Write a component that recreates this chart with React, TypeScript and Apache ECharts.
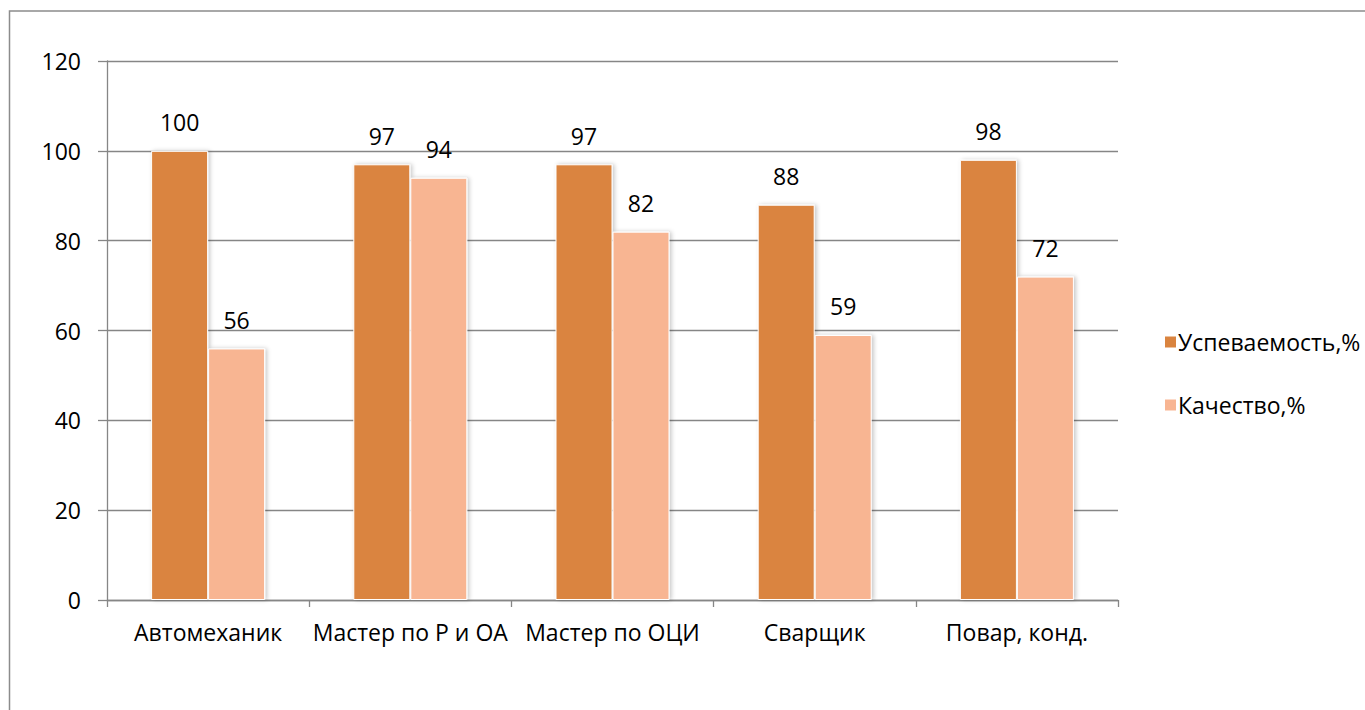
import React, { useEffect, useRef } from "react";
import * as echarts from "echarts";

const categories = ["Автомеханик", "Мастер по Р и ОА", "Мастер по ОЦИ", "Сварщик", "Повар, конд."];
const seriesNames = ["Успеваемость,%", "Качество,%"];
const progress = [100, 97, 97, 88, 98];
const quality = [56, 94, 82, 59, 72];
const yMin = 0;
const yMax = 120;
const yStep = 20;

const FONT = "'Open Sans', 'Noto Sans', sans-serif";
const FS = 23;
const AXIS_COLOR = "#868686";

export default function App() {
  const ref = useRef<HTMLDivElement>(null);
  useEffect(() => {
    if (!ref.current) return;
    const chart = echarts.init(ref.current, undefined, { renderer: "svg" });
    const barStyle = (color: string) => ({
      color,
      borderColor: "#ffffff",
      borderWidth: 1,
      shadowColor: "rgba(0,0,0,0.22)",
      shadowBlur: 4,
      shadowOffsetX: 2,
      shadowOffsetY: 0,
    });
    const label = {
      show: true,
      position: "top" as const,
      distance: 17,
      color: "#000",
      fontFamily: FONT,
      fontSize: FS,
    };
    chart.setOption({
      animation: false,
      backgroundColor: "#ffffff",
      textStyle: { fontFamily: FONT },
      graphic: [
        {
          type: "rect",
          shape: { x: 9.5, y: 11, width: 1400, height: 800 },
          style: { fill: "none", stroke: "#8c8c8c", lineWidth: 1.5 },
          silent: true,
        },
      ],
      grid: { left: 107, top: 61, right: 247, bottom: 110, containLabel: false },
      legend: {
        orient: "vertical",
        left: 1158,
        top: 325,
        itemWidth: 13,
        itemHeight: 13,
        itemGap: 39,
        icon: "rect",
        textStyle: { fontFamily: FONT, fontSize: FS, color: "#000", lineHeight: 24, padding: [0, 0, 0, -4] },
        data: seriesNames,
      },
      xAxis: {
        type: "category",
        data: categories,
        axisLine: { lineStyle: { color: AXIS_COLOR, width: 1.3 } },
        axisTick: { show: true, length: 7, lineStyle: { color: AXIS_COLOR, width: 1.3 } },
        axisLabel: { color: "#000", fontFamily: FONT, fontSize: FS, margin: 20, interval: 0 },
      },
      yAxis: {
        type: "value",
        min: yMin,
        max: yMax,
        interval: yStep,
        axisLine: { show: true, lineStyle: { color: AXIS_COLOR, width: 1.3 } },
        axisTick: { show: true, length: 9, lineStyle: { color: AXIS_COLOR, width: 1.3 } },
        axisLabel: { color: "#000", fontFamily: FONT, fontSize: FS, margin: 26 },
        splitLine: { show: true, lineStyle: { color: AXIS_COLOR, width: 1.3 } },
      },
      series: [
        {
          name: seriesNames[0],
          type: "bar",
          data: progress,
          barWidth: 57,
          barGap: "0%",
          itemStyle: barStyle("#DA843F"),
          label,
        },
        {
          name: seriesNames[1],
          type: "bar",
          data: quality,
          barWidth: 57,
          barGap: "0%",
          itemStyle: barStyle("#F8B592"),
          label,
        },
      ],
    });
    return () => chart.dispose();
  }, []);
  return (
    <div
      ref={ref}
      style={{ position: "fixed", left: 0, top: 0, width: 1365, height: 710, background: "#fff" }}
    />
  );
}
